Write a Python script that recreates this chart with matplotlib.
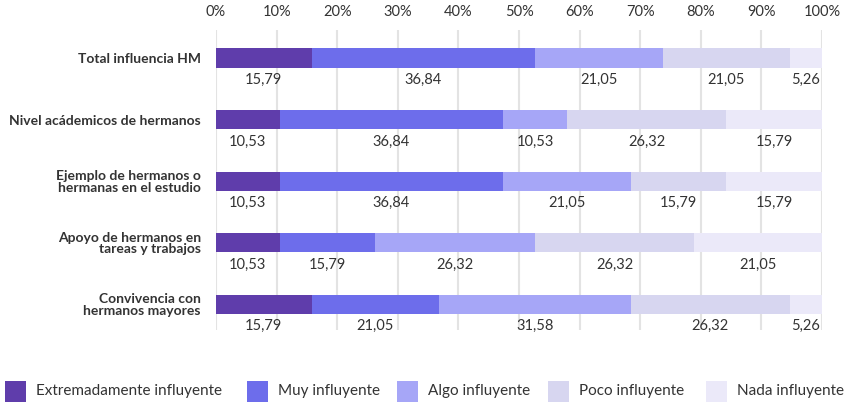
import matplotlib
matplotlib.use("Agg")
import matplotlib.pyplot as plt
from matplotlib.patches import Rectangle
import numpy as np

categories = [
    "Total influencia HM",
    "Nivel acádemicos de hermanos",
    "Ejemplo de hermanos o\nhermanas en el estudio",
    "Apoyo de hermanos en\ntareas y trabajos",
    "Convivencia con\nhermanos mayores",
]
series_names = ["Extremadamente influyente", "Muy influyente", "Algo influyente",
                "Poco influyente", "Nada influyente"]
extremadamente = [15.79, 10.53, 10.53, 10.53, 15.79]
muy = [36.84, 36.84, 36.84, 15.79, 21.05]
algo = [21.05, 10.53, 21.05, 26.32, 31.58]
poco = [21.05, 26.32, 15.79, 26.32, 26.32]
nada = [5.26, 15.79, 15.79, 21.05, 5.26]
xticks = [0, 10, 20, 30, 40, 50, 60, 70, 80, 90, 100]

colors = ["#5f3dab", "#6d6deb", "#a6a6f7", "#d7d6f0", "#ebe9f9"]
text_color = "#333333"

plt.rcParams['font.family'] = ['Lato', 'DejaVu Sans']

W, H = 848, 403
fig = plt.figure(figsize=(W / 100, H / 100), dpi=100)
ax_top, ax_bot = 30, 330
ax = fig.add_axes([216 / W, 1 - ax_bot / H, (822 - 216) / W, (ax_bot - ax_top) / H])

series = [extremadamente, muy, algo, poco, nada]
y = np.arange(len(categories))
left = np.zeros(len(categories))
for vals, c in zip(series, colors):
    vals = np.array(vals)
    ax.barh(y, vals, left=left, height=0.31, color=c, zorder=3, linewidth=0)
    for yi, l, v in zip(y, left, vals):
        ax.text(l + v / 2, yi + 0.36, f"{v:.2f}".replace(".", ","), ha="center",
                va="center", fontsize=10.5, color=text_color)
    left = left + vals

ax.set_xlim(0, 100)
ax.set_ylim(4.42, -0.455)
ax.set_xticks(xticks)
ax.set_xticklabels([f"{t}%" for t in xticks])
ax.xaxis.tick_top()
ax.tick_params(axis="x", length=0, pad=8, labelsize=10.5, labelcolor=text_color)
ax.set_yticks(y)
ax.set_yticklabels(categories, fontweight="bold", fontsize=10, linespacing=0.95)
ax.tick_params(axis="y", length=0, pad=11, labelcolor=text_color)
ax.grid(axis="x", color="#e3e3e3", linewidth=1.5, zorder=0)
for s in ax.spines.values():
    s.set_visible(False)

# legend (manual layout in figure pixels)
leg_x = [5, 247, 397, 548, 706]
sq = 21
leg_y = 391
for x0, c, name in zip(leg_x, colors, series_names):
    fig.patches.append(Rectangle((x0 / W, 1 - (leg_y + sq / 2) / H), sq / W, sq / H,
                                 transform=fig.transFigure, facecolor=c,
                                 edgecolor="none"))
    fig.text((x0 + sq + 10) / W, 1 - leg_y / H, name, ha="left", va="center",
             fontsize=11, color=text_color)

fig.savefig("out.png", dpi=100)
